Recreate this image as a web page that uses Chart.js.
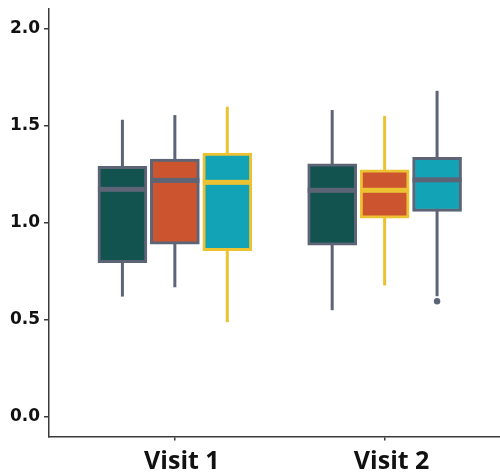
<!DOCTYPE html>
<html>
<head>
<meta charset="utf-8">
<script src="https://cdn.jsdelivr.net/npm/chart.js@4/dist/chart.umd.min.js"></script>
<style>
  html, body { margin: 0; padding: 0; background: #ffffff; overflow: hidden; }
  #wrap { width: 500px; height: 474px; }
</style>
</head>
<body>
<div id="wrap"><canvas id="chart" width="500" height="474"></canvas></div>
<script>
// Visits along the x axis
const visits = ['Visit 1', 'Visit 2'];
// Five-number summaries per visit: [lower whisker, Q1, median, Q3, upper whisker]
const groupTeal   = [[0.620, 0.795, 1.172, 1.290, 1.530], [0.550, 0.885, 1.167, 1.303, 1.580]];
const groupOrange = [[0.668, 0.890, 1.218, 1.328, 1.554], [0.677, 1.024, 1.167, 1.272, 1.550]];
const groupCyan   = [[0.488, 0.856, 1.208, 1.358, 1.597], [0.622, 1.058, 1.221, 1.337, 1.679]];
// Points beyond the whiskers
const outliersTeal   = [[], []];
const outliersOrange = [[], []];
const outliersCyan   = [[], [0.596]];
// Y axis tick values
const yTicks = [0.0, 0.5, 1.0, 1.5, 2.0];

const GREY = '#5d6476';
const GOLD = '#ecc232';
const DODGE = 0.25;

const groups = [
  { stats: groupTeal,   outliers: outliersTeal,   fill: '#12524f', lines: [GREY, GREY], shift: -1 },
  { stats: groupOrange, outliers: outliersOrange, fill: '#cc5530', lines: [GREY, GOLD], shift: 0 },
  { stats: groupCyan,   outliers: outliersCyan,   fill: '#12a3b6', lines: [GOLD, GREY], shift: 1 }
];

const datasets = groups.map(g => ({
  data: visits.map((v, i) => ({ x: i + 1 + g.shift * DODGE, y: [g.stats[i][1], g.stats[i][3]] })),
  backgroundColor: g.fill,
  borderColor: g.lines,
  borderWidth: 3,
  borderSkipped: false,
  barThickness: 49,
  grouped: false
}));

// Whiskers go under the boxes; medians and outliers on top of them
const boxParts = {
  id: 'boxParts',
  beforeDatasetsDraw(chart) {
    const ctx = chart.ctx, y = chart.scales.y;
    ctx.save();
    groups.forEach((g, d) => {
      chart.getDatasetMeta(d).data.forEach((bar, i) => {
        const s = g.stats[i];
        ctx.strokeStyle = g.lines[i];
        ctx.lineWidth = 3;
        ctx.beginPath();
        ctx.moveTo(bar.x, y.getPixelForValue(s[0]));
        ctx.lineTo(bar.x, y.getPixelForValue(s[4]));
        ctx.stroke();
      });
    });
    ctx.restore();
  },
  afterDatasetsDraw(chart) {
    const ctx = chart.ctx, y = chart.scales.y;
    ctx.save();
    groups.forEach((g, d) => {
      chart.getDatasetMeta(d).data.forEach((bar, i) => {
        const s = g.stats[i];
        const my = y.getPixelForValue(s[2]);
        ctx.fillStyle = g.lines[i];
        ctx.fillRect(bar.x - bar.width / 2, my - 2.5, bar.width, 5);
        g.outliers[i].forEach(o => {
          ctx.beginPath();
          ctx.arc(bar.x, y.getPixelForValue(o), 3.2, 0, Math.PI * 2);
          ctx.fill();
        });
      });
    });
    ctx.restore();
  }
};

new Chart(document.getElementById('chart'), {
  type: 'bar',
  data: { datasets },
  plugins: [boxParts],
  options: {
    responsive: false,
    animation: false,
    events: [],
    layout: { padding: { top: 9, right: 0, bottom: 0, left: 0 } },
    plugins: { legend: { display: false }, tooltip: { enabled: false } },
    scales: {
      x: {
        type: 'linear',
        min: 0.4,
        max: 2.55,
        offset: false,
        afterBuildTicks: s => { s.ticks = visits.map((v, i) => ({ value: i + 1 })); },
        afterFit: s => { s.height = 37.5; s.paddingLeft = 0; s.paddingRight = 0; },
        ticks: {
          callback: (v, i) => visits[i],
          font: { family: 'Open Sans', weight: '700', size: 25 },
          color: '#111111',
          padding: 6,
          labelOffset: 7,
          maxRotation: 0,
          autoSkip: false
        },
        grid: { offset: false, drawOnChartArea: false, drawTicks: true, tickLength: 4, color: '#3a3a3a', lineWidth: 1.5 },
        border: { display: true, color: '#3a3a3a', width: 1.5 }
      },
      y: {
        min: -0.1,
        max: 2.1,
        afterBuildTicks: s => { s.ticks = yTicks.map(v => ({ value: v })); },
        afterFit: s => { s.width = 49; s.paddingTop = 0; s.paddingBottom = 0; },
        ticks: {
          callback: v => Number(v).toFixed(1),
          font: { family: "'DejaVu Sans', sans-serif", weight: '700', size: 17 },
          color: '#111111',
          padding: 4
        },
        grid: { drawOnChartArea: false, drawTicks: true, tickLength: 5, color: '#3a3a3a', lineWidth: 1.5 },
        border: { display: true, color: '#3a3a3a', width: 1.5 }
      }
    }
  }
});
</script>
</body>
</html>
